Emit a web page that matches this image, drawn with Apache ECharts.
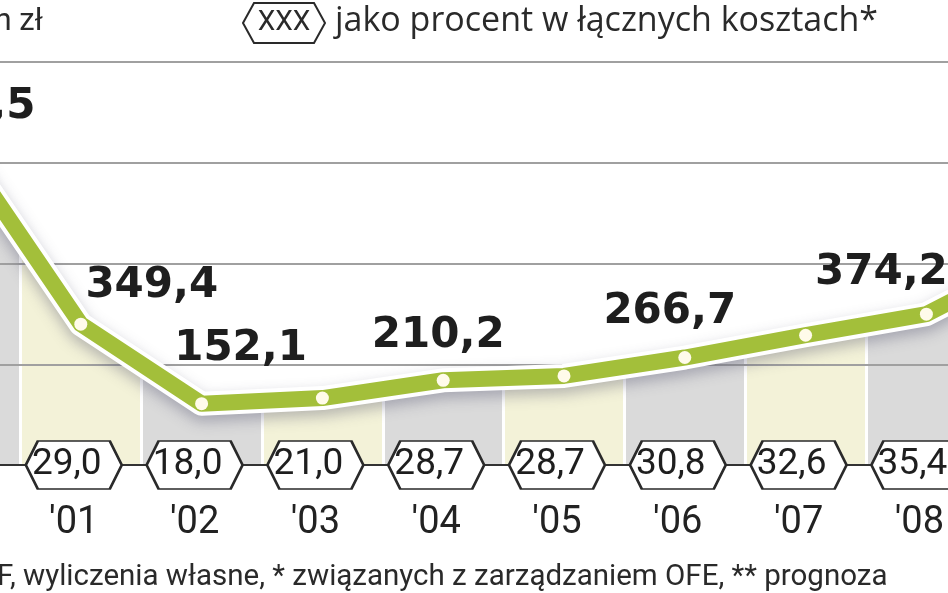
<!DOCTYPE html>
<html>
<head>
<meta charset="utf-8">
<script src="https://cdn.jsdelivr.net/npm/echarts@6/dist/echarts.min.js"></script>
<style>
html,body{margin:0;padding:0;background:#fff;}
#chart{width:948px;height:593px;}
</style>
</head>
<body>
<div id="chart"></div>
<script>
// ---- data ----
const years = ["'00", "'01", "'02", "'03", "'04", "'05", "'06", "'07", "'08", "'09"];
const costs = [789.5, 349.4, 152.1, 166, 210.2, 221, 266.7, 322, 374.2, 530];
const shares = [null, 29.0, 18.0, 21.0, 28.7, 28.7, 30.8, 32.6, 35.4, null];
const labeledYears = ["'00", "'01", "'02", "'04", "'06", "'08"];
const yMin = 0, yMax = 1000, yStep = 250;
const unitText = "mln zł";
const legendKey = "XXX";
const legendText = "jako procent w łącznych kosztach*";
const footerText = "F, wyliczenia własne, * związanych z zarządzaniem OFE, ** prognoza";

// ---- styling (label placements per year, pixels) ----
const labelOffsets = {"'00": [9, -40], "'01": [71, -38], "'02": [39, -55], "'04": [-5, -44], "'06": [-15, -45], "'08": [-45, -41]};

const fmt = v => v.toFixed(1).replace('.', ',');
const GREEN = '#a3bf3a';

const lineData = costs.map((v, i) => {
  const y = years[i];
  const show = labeledYears.indexOf(y) >= 0;
  return {
    value: v,
    label: show ? {show: true, offset: labelOffsets[y]} : {show: false}
  };
});

const hexData = shares.map(s => s == null ? '-' : 0);

const chart = echarts.init(document.getElementById('chart'));
chart.setOption({
  animation: false,
  backgroundColor: '#fff',
  grid: {left: -100.4, right: -159.6, top: 62, bottom: 128, containLabel: false, outerBoundsMode: 'none'},
  xAxis: {
    type: 'category',
    data: years,
    boundaryGap: true,
    z: 0,
    axisLine: {show: false},
    axisTick: {show: false},
    axisLabel: {
      fontFamily: 'Roboto', fontSize: 38, color: '#222', margin: 39,
      padding: [0, 14, 0, 0]
    },
    splitArea: {show: true, areaStyle: {color: ['#dadada', '#f3f2d8']}},
    splitLine: {show: true, lineStyle: {color: '#ffffff', width: 3}}
  },
  yAxis: {
    type: 'value', min: yMin, max: yMax, interval: yStep, z: 3,
    axisLine: {show: false}, axisTick: {show: false}, axisLabel: {show: false},
    splitLine: {show: true, lineStyle: {color: '#a0a0a0', width: 2}}
  },
  series: [
    {
      type: 'line', data: costs, z: 2, symbol: 'none', silent: true,
      lineStyle: {width: 0, opacity: 0},
      areaStyle: {color: '#ffffff', opacity: 1, origin: 'end'}
    },
    {
      type: 'line', data: costs, z: 4, symbol: 'none', silent: true,
      lineStyle: {color: '#ffffff', width: 24, shadowColor: 'rgba(70,70,100,0.35)', shadowBlur: 14, shadowOffsetY: 6, cap: 'round', join: 'round'},
      markLine: {
        silent: true, symbol: ['none', 'none'], label: {show: false},
        lineStyle: {color: '#333', width: 2, type: 'solid'},
        data: [{yAxis: 0}]
      }
    },
    {
      type: 'line', data: lineData, z: 5,
      symbol: 'circle', symbolSize: 13,
      itemStyle: {color: '#fffbea', borderWidth: 0},
      lineStyle: {color: GREEN, width: 16, join: 'round'},
      label: {
        position: 'inside', formatter: p => fmt(p.value),
        fontFamily: 'DejaVu Sans', fontWeight: 'bold', fontSize: 42, color: '#1e1e1e',
        align: 'center', verticalAlign: 'middle'
      }
    },
    {
      type: 'scatter', data: hexData, z: 6,
      symbol: 'path://M0,24 L12,0 L84,0 L96,24 L84,48 L12,48 Z',
      symbolSize: [96, 48], symbolOffset: [-7, 0],
      itemStyle: {color: '#ffffff', borderColor: '#2a2a2a', borderWidth: 2, opacity: 1},
      label: {
        show: true, position: 'inside', offset: [-7, 0],
        formatter: p => shares[p.dataIndex] == null ? '' : fmt(shares[p.dataIndex]),
        fontFamily: 'Roboto', fontSize: 37, color: '#1e1e1e'
      }
    }
  ],
  graphic: [
    {type: 'text', right: 948 - 43, top: 7, style: {text: unitText, font: '31px Roboto', fill: '#2a2a2a', textAlign: 'right'}},
    {type: 'polygon', shape: {points: [[243, 23], [254, 3], [314, 3], [325, 23], [314, 43], [254, 43]]},
     style: {fill: '#fff', stroke: '#2a2a2a', lineWidth: 2}},
    {type: 'text', x: 284, y: 23, style: {text: legendKey, font: '28px Roboto', fill: '#2a2a2a', textAlign: 'center', textVerticalAlign: 'middle'}},
    {type: 'text', x: 335, y: 21, style: {text: legendText, font: '34px "Open Sans"', fill: '#2a2a2a', textAlign: 'left', textVerticalAlign: 'middle'}},
    {type: 'text', x: -3, y: 578, style: {text: footerText, font: '29.5px Roboto', fill: '#2a2a2a', textAlign: 'left', textVerticalAlign: 'middle'}}
  ]
});
</script>
</body>
</html>
